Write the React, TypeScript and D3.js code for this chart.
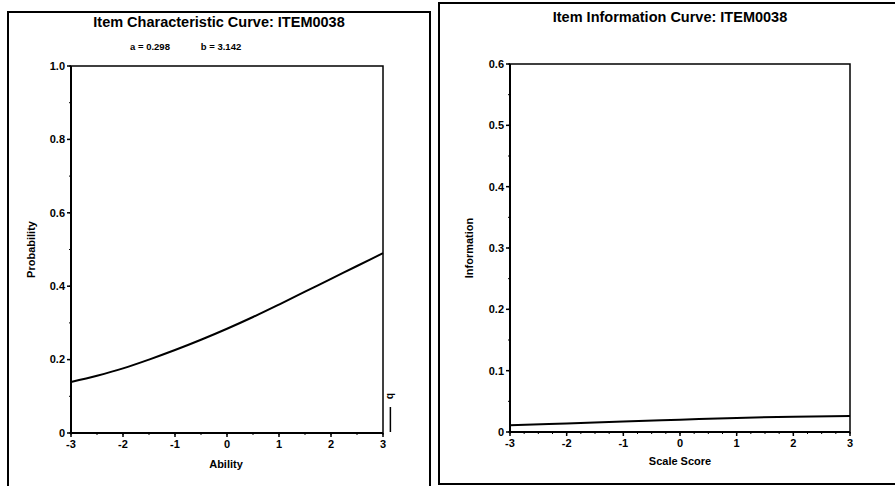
import React from 'react';
import * as d3 from 'd3';

// ---- data ----
const iccTheta = [-3, -2.5, -2, -1.5, -1, -0.5, 0, 0.5, 1, 1.5, 2, 2.5, 3];
const iccProb = [0.139, 0.156, 0.176, 0.2, 0.226, 0.254, 0.284, 0.316, 0.35, 0.385, 0.42, 0.455, 0.49];
const iifTheta = [-3, -2, -1, 0, 1, 2, 3];
const iifInfo = [0.011, 0.014, 0.017, 0.02, 0.023, 0.025, 0.026];
const xTicks = [-3, -2, -1, 0, 1, 2, 3];
const probTicks = [0, 0.2, 0.4, 0.6, 0.8, 1.0];
const probTickLabels = ['0', '0.2', '0.4', '0.6', '0.8', '1.0'];
const infoTicks = [0, 0.1, 0.2, 0.3, 0.4, 0.5, 0.6];
const infoTickLabels = ['0', '0.1', '0.2', '0.3', '0.4', '0.5', '0.6'];
const paramA = 0.298;
const paramB = 3.142;
const titleLeft = 'Item Characteristic Curve: ITEM0038';
const titleRight = 'Item Information Curve: ITEM0038';

const FONT = '"Liberation Sans", Arial, sans-serif';

function range(a: number, b: number, step: number) {
  const out: number[] = [];
  const n = Math.round((b - a) / step);
  for (let i = 0; i <= n; i++) out.push(+(a + i * step).toFixed(4));
  return out;
}

export default function App() {
  // left panel scales
  const xL = d3.scaleLinear().domain([-3, 3]).range([71, 383]);
  const yL = d3.scaleLinear().domain([0, 1]).range([433, 66]);
  // right panel scales
  const xR = d3.scaleLinear().domain([-3, 3]).range([510, 850]);
  const yR = d3.scaleLinear().domain([0, 0.6]).range([432, 64]);

  const iccLine = d3
    .line<number>()
    .x((_, i) => xL(iccTheta[i]))
    .y((d) => yL(d))
    .curve(d3.curveMonotoneX);
  const iifLine = d3
    .line<number>()
    .x((_, i) => xR(iifTheta[i]))
    .y((d) => yR(d))
    .curve(d3.curveMonotoneX);

  const lMinorX = range(-3, 3, 0.5);
  const lMinorY = range(0, 1, 0.1);
  const rMinorX = range(-3, 3, 0.25);
  const rMinorY = range(0, 0.6, 0.05);

  const tickStyle = { fontFamily: FONT, fontWeight: 700, fontSize: 11, fill: '#000' } as const;

  return (
    <div style={{ position: 'absolute', left: 0, top: 0 }}>
      <svg width={895} height={486} style={{ display: 'block', background: '#fff' }}>
        <rect x={0} y={0} width={895} height={486} fill="#fff" />
        {/* panel frames */}
        <rect x={8} y={12} width={422} height={485} fill="none" stroke="#000" strokeWidth={2} />
        <rect x={439} y={3} width={470} height={481} fill="none" stroke="#000" strokeWidth={2} />

        {/* ---------- LEFT PANEL ---------- */}
        <text x={219} y={27} textAnchor="middle" style={{ fontFamily: FONT, fontWeight: 700, fontSize: 14.5 }}>
          {titleLeft}
        </text>
        <text x={150} y={50} textAnchor="middle" style={{ fontFamily: FONT, fontWeight: 700, fontSize: 9.5 }}>
          {`a = ${paramA.toFixed(3)}`}
        </text>
        <text x={221} y={50} textAnchor="middle" style={{ fontFamily: FONT, fontWeight: 700, fontSize: 9.5 }}>
          {`b = ${paramB.toFixed(3)}`}
        </text>

        {/* plot frame */}
        <rect x={xL(-3)} y={yL(1)} width={xL(3) - xL(-3)} height={yL(0) - yL(1)} fill="none" stroke="#000" strokeWidth={1.5} />
        <line x1={xL(-3)} x2={xL(-3)} y1={yL(1)} y2={yL(0)} stroke="#000" strokeWidth={2} />
        <line x1={xL(-3)} x2={xL(3)} y1={yL(0)} y2={yL(0)} stroke="#000" strokeWidth={2} />

        {lMinorY.map((v) => (
          <line key={'lmy' + v} x1={xL(-3) - 2} x2={xL(-3)} y1={yL(v)} y2={yL(v)} stroke="#000" strokeWidth={1} />
        ))}
        {lMinorX.map((v) => (
          <line key={'lmx' + v} x1={xL(v)} x2={xL(v)} y1={yL(0)} y2={yL(0) + 2} stroke="#000" strokeWidth={1} />
        ))}
        {probTicks.map((v, i) => (
          <g key={'lpy' + v}>
            <line x1={xL(-3) - 4} x2={xL(-3)} y1={yL(v)} y2={yL(v)} stroke="#000" strokeWidth={1.5} />
            <text x={xL(-3) - 6} y={yL(v)} dy="0.35em" textAnchor="end" style={tickStyle}>
              {probTickLabels[i]}
            </text>
          </g>
        ))}
        {xTicks.map((v) => (
          <g key={'lpx' + v}>
            <line x1={xL(v)} x2={xL(v)} y1={yL(0)} y2={yL(0) + 4} stroke="#000" strokeWidth={1.5} />
            <text x={xL(v)} y={yL(0) + 15} textAnchor="middle" style={tickStyle}>
              {String(v)}
            </text>
          </g>
        ))}
        <text x={226} y={468} textAnchor="middle" style={tickStyle}>
          Ability
        </text>
        <text
          transform={`translate(35,${(yL(0) + yL(1)) / 2}) rotate(-90)`}
          textAnchor="middle"
          style={tickStyle}
        >
          Probability
        </text>

        <path d={iccLine(iccProb) || ''} fill="none" stroke="#000" strokeWidth={2} />

        {/* b marker */}
        <text
          transform={`translate(${xL(paramB) - 3},396) rotate(90)`}
          textAnchor="middle"
          style={{ fontFamily: FONT, fontWeight: 700, fontSize: 10 }}
        >
          b
        </text>
        <line x1={xL(paramB)} x2={xL(paramB)} y1={407} y2={yL(0) - 1} stroke="#000" strokeWidth={1.5} />

        {/* ---------- RIGHT PANEL ---------- */}
        <text x={670} y={22} textAnchor="middle" style={{ fontFamily: FONT, fontWeight: 700, fontSize: 14.5 }}>
          {titleRight}
        </text>

        <rect x={xR(-3)} y={yR(0.6)} width={xR(3) - xR(-3)} height={yR(0) - yR(0.6)} fill="none" stroke="#000" strokeWidth={1.5} />
        <line x1={xR(-3)} x2={xR(-3)} y1={yR(0.6)} y2={yR(0)} stroke="#000" strokeWidth={2} />
        <line x1={xR(-3)} x2={xR(3)} y1={yR(0)} y2={yR(0)} stroke="#000" strokeWidth={2} />

        {rMinorY.map((v) => (
          <line key={'rmy' + v} x1={xR(-3) - 2} x2={xR(-3)} y1={yR(v)} y2={yR(v)} stroke="#000" strokeWidth={1} />
        ))}
        {rMinorX.map((v) => (
          <line key={'rmx' + v} x1={xR(v)} x2={xR(v)} y1={yR(0)} y2={yR(0) + 2} stroke="#000" strokeWidth={1} />
        ))}
        {infoTicks.map((v, i) => (
          <g key={'rpy' + v}>
            <line x1={xR(-3) - 4} x2={xR(-3)} y1={yR(v)} y2={yR(v)} stroke="#000" strokeWidth={1.5} />
            <text x={xR(-3) - 6} y={yR(v)} dy="0.35em" textAnchor="end" style={tickStyle}>
              {infoTickLabels[i]}
            </text>
          </g>
        ))}
        {xTicks.map((v) => (
          <g key={'rpx' + v}>
            <line x1={xR(v)} x2={xR(v)} y1={yR(0)} y2={yR(0) + 4} stroke="#000" strokeWidth={1.5} />
            <text x={xR(v)} y={yR(0) + 15} textAnchor="middle" style={tickStyle}>
              {String(v)}
            </text>
          </g>
        ))}
        <text x={680} y={465} textAnchor="middle" style={tickStyle}>
          Scale Score
        </text>
        <text
          transform={`translate(473,${(yR(0) + yR(0.6)) / 2}) rotate(-90)`}
          textAnchor="middle"
          style={tickStyle}
        >
          Information
        </text>

        <path d={iifLine(iifInfo) || ''} fill="none" stroke="#000" strokeWidth={2} />
      </svg>
    </div>
  );
}
